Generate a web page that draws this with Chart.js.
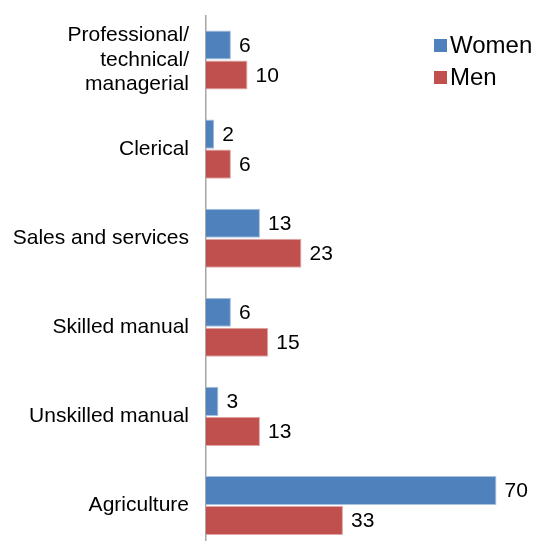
<!DOCTYPE html>
<html>
<head>
<meta charset="utf-8">
<script src="https://cdn.jsdelivr.net/npm/chart.js@4"></script>
<style>
  html, body { margin: 0; padding: 0; background: #fff; overflow: hidden; }
  #wrap { width: 535px; height: 541px; overflow: hidden; }
  canvas { display: block; }
</style>
</head>
<body>
<div id="wrap"><canvas id="jobsChart" width="538" height="550"></canvas></div>
<script>
const categories = [
  ["Professional/", "technical/", "managerial"],
  "Clerical",
  "Sales and services",
  "Skilled manual",
  "Unskilled manual",
  "Agriculture"
];
const women = [6, 2, 13, 6, 3, 70];
const men = [10, 6, 23, 15, 13, 33];
const seriesNames = ["Women", "Men"];

const FONT = "'Liberation Sans', Arial, sans-serif";

// value text at the end of each bar
const barValues = {
  id: "barValues",
  afterDatasetsDraw(chart) {
    const ctx = chart.ctx;
    ctx.save();
    ctx.font = "21px " + FONT;
    ctx.fillStyle = "#000";
    ctx.textAlign = "left";
    ctx.textBaseline = "middle";
    chart.data.datasets.forEach((ds, i) => {
      chart.getDatasetMeta(i).data.forEach((bar, j) => {
        ctx.fillText(String(ds.data[j]), bar.x + 8, bar.y + 1);
      });
    });
    ctx.restore();
  }
};

// legend stacked in the top right corner of the plot
const cornerLegend = {
  id: "cornerLegend",
  afterDraw(chart) {
    const ctx = chart.ctx;
    const area = chart.chartArea;
    const x = area.right - 104;
    let y = area.top + 23.5;
    ctx.save();
    ctx.font = "24px " + FONT;
    ctx.textBaseline = "middle";
    ctx.textAlign = "left";
    chart.data.datasets.forEach((ds) => {
      ctx.fillStyle = ds.backgroundColor;
      ctx.fillRect(x, y, 13, 13);
      ctx.fillStyle = "#000";
      ctx.fillText(ds.label, x + 16, y + 7);
      y += 32;
    });
    ctx.restore();
  }
};

new Chart(document.getElementById("jobsChart").getContext("2d"), {
  type: "bar",
  data: {
    labels: categories,
    datasets: [
      {
        label: seriesNames[0],
        data: women,
        backgroundColor: "#4F81BD",
        borderColor: "#A9C0DE",
        borderWidth: 1,
        barPercentage: 0.967,
        categoryPercentage: 0.674
      },
      {
        label: seriesNames[1],
        data: men,
        backgroundColor: "#C0504D",
        borderColor: "#E0A8A6",
        borderWidth: 1,
        barPercentage: 0.967,
        categoryPercentage: 0.674
      }
    ]
  },
  options: {
    indexAxis: "y",
    responsive: false,
    animation: false,
    layout: { padding: { top: 15.5, right: 0, bottom: 0, left: 0 } },
    plugins: {
      legend: { display: false },
      tooltip: { enabled: false }
    },
    scales: {
      x: {
        display: false,
        min: 0,
        max: 80
      },
      y: {
        afterFit(scale) {
          scale.width = 206;
          // labels sit inside their bands, no extra room above/below
          scale.paddingTop = 0;
          scale.paddingBottom = 0;
        },
        grid: { display: false, drawTicks: false },
        border: { display: true, color: "#A6A6A6", width: 1.5 },
        ticks: {
          padding: 17,
          color: "#000",
          font: { family: FONT, size: 21, lineHeight: 1.17 }
        }
      }
    }
  },
  plugins: [barValues, cornerLegend]
});
</script>
</body>
</html>
